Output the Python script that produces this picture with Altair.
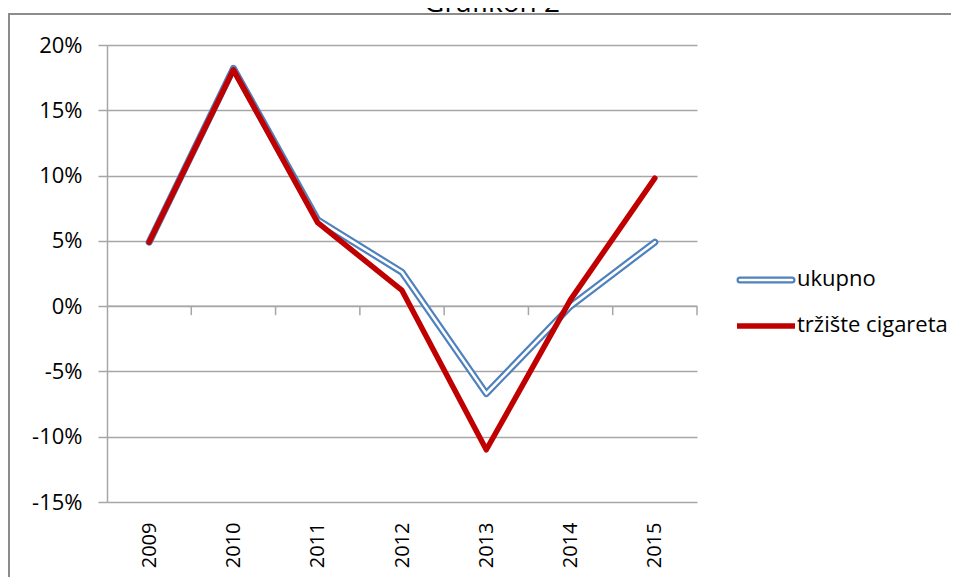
import json
import altair as alt
import pandas as pd

years = ["2009", "2010", "2011", "2012", "2013", "2014", "2015"]
ukupno = [0.049, 0.182, 0.066, 0.026, -0.067, 0.000, 0.049]
cigarete = [0.049, 0.181, 0.064, 0.012, -0.110, 0.005, 0.098]
series_names = ["ukupno", "tržište cigareta"]
y_ticks = [-0.15, -0.10, -0.05, 0.0, 0.05, 0.10, 0.15, 0.20]
title_text = "Grafikon 2"

idx = list(range(len(years)))
df = pd.DataFrame({
    "i": idx * 2,
    "year": years * 2,
    "series": [series_names[0]] * len(years) + [series_names[1]] * len(years),
    "value": ukupno + cigarete,
})
bounds_df = pd.DataFrame({"b": [i + 0.5 for i in idx]})
axis_line_df = pd.DataFrame({"a": [-0.5], "b": [len(years) - 0.5], "y": [0.0]})
legend_df = pd.DataFrame({"series": series_names})

FONT = "Open Sans"
GRAY = "#A6A6A6"
BLUE = "#4F81BD"
RED = "#C00000"

label_expr = json.dumps(years) + "[datum.value]"
pct_expr = "replace(format(datum.value, '.0%'), '\u2212', '-')"

xscale = alt.Scale(domain=[-0.5, len(years) - 0.5], nice=False, zero=False)
yscale = alt.Scale(domain=[-0.15, 0.20], nice=False, zero=False)

x_enc = alt.X("i:Q", scale=xscale, axis=alt.Axis(
    values=idx, labelExpr=label_expr, ticks=False, tickSize=0, domain=False, grid=False,
    labelAngle=-90, labelFont=FONT, labelFontSize=20, labelColor="black",
    labelPadding=20, title=None))
y_enc = alt.Y("value:Q", scale=yscale, axis=alt.Axis(
    values=y_ticks, labelExpr=pct_expr, tickSize=9, tickColor=GRAY, tickWidth=1.5,
    domainColor=GRAY, domainWidth=1.5, gridColor=GRAY, gridWidth=1.5,
    labelFont=FONT, labelFontSize=22, labelColor="black", labelPadding=16, title=None))

base = alt.Chart(df)

blue_outer = base.transform_filter(alt.datum.series == series_names[0]).mark_line(
    color=BLUE, strokeWidth=7, strokeJoin="round", strokeCap="round").encode(x=x_enc, y=y_enc)
blue_inner = base.transform_filter(alt.datum.series == series_names[0]).mark_line(
    color="white", strokeWidth=2.6, strokeJoin="round", strokeCap="round").encode(x="i:Q", y="value:Q")
red_line = base.transform_filter(alt.datum.series == series_names[1]).mark_line(
    color=RED, strokeWidth=5.5, strokeJoin="round", strokeCap="round").encode(x="i:Q", y="value:Q")

zero_line = alt.Chart(axis_line_df).mark_rule(color=GRAY, strokeWidth=1.5).encode(
    x="a:Q", x2="b:Q", y="y:Q")
zero_ticks = alt.Chart(bounds_df).mark_rule(color=GRAY, strokeWidth=1.5).encode(
    x="b:Q", y=alt.datum(0.0), y2=alt.datum(-0.0069))

# legend
leg_blue_o = alt.Chart(legend_df).transform_filter(alt.datum.series == series_names[0]).mark_rule(
    color=BLUE, strokeWidth=7, strokeCap="round").encode(
    x=alt.value(633), x2=alt.value(685), y=alt.value(235))
leg_blue_i = alt.Chart(legend_df).transform_filter(alt.datum.series == series_names[0]).mark_rule(
    color="white", strokeWidth=2.6, strokeCap="round").encode(
    x=alt.value(633), x2=alt.value(685), y=alt.value(235))
leg_red = alt.Chart(legend_df).transform_filter(alt.datum.series == series_names[1]).mark_rule(
    color=RED, strokeWidth=5.5).encode(
    x=alt.value(630), x2=alt.value(688), y=alt.value(281))
leg_text_b = alt.Chart(legend_df).transform_filter(alt.datum.series == series_names[0]).mark_text(
    align="left", baseline="middle", font=FONT, fontSize=22, color="black").encode(
    x=alt.value(690), y=alt.value(234), text="series:N")
leg_text_r = alt.Chart(legend_df).transform_filter(alt.datum.series == series_names[1]).mark_text(
    align="left", baseline="middle", font=FONT, fontSize=22, color="black").encode(
    x=alt.value(690), y=alt.value(280), text="series:N")

border = alt.Chart(legend_df.head(1)).mark_rect(
    fill=None, fillOpacity=0, stroke="#8C8C8C", strokeWidth=2).encode(
    x=alt.value(-98), x2=alt.value(900), y=alt.value(-31), y2=alt.value(620))

title = alt.Chart(legend_df.head(1)).mark_text(
    align="center", baseline="alphabetic", font=FONT, fontSize=28, color="black").encode(
    x=alt.value(385), y=alt.value(-33), text=alt.value(title_text))

chart = alt.layer(
    zero_line, zero_ticks, blue_outer, blue_inner, red_line,
    leg_blue_o, leg_blue_i, leg_red, leg_text_b, leg_text_r, border, title
).properties(
    width=590, height=457,
    autosize=alt.AutoSizeParams(type="none"),
    padding={"left": 99, "top": 37, "right": 254, "bottom": 75},
    background="white",
).configure_view(stroke=None)

chart.save("out.html", embed_options={"renderer": "svg", "actions": False})
